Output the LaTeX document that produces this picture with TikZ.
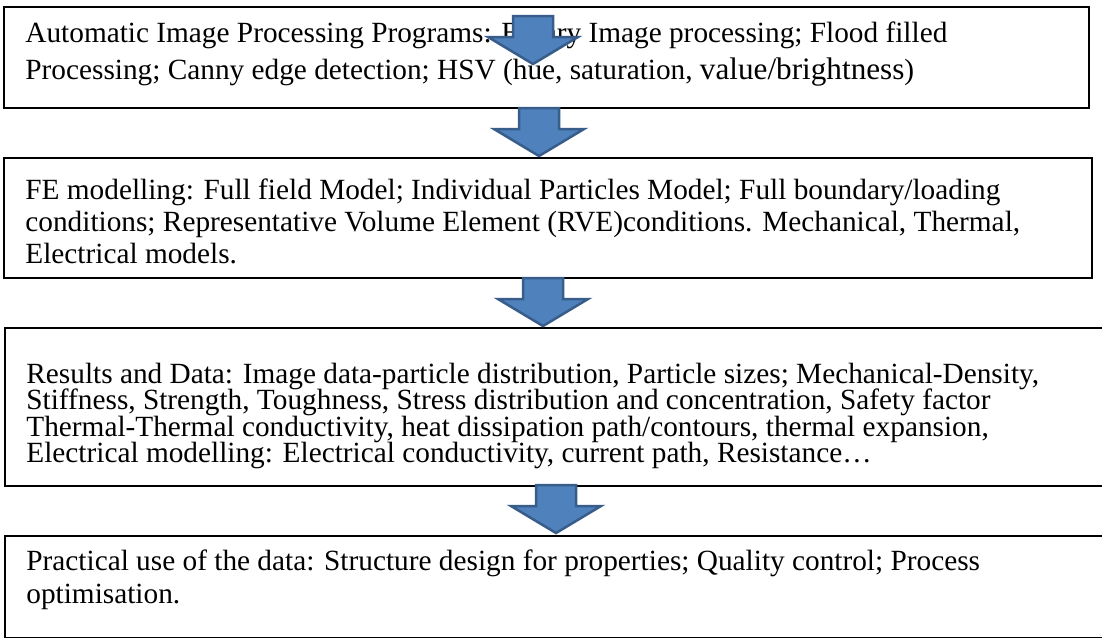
\documentclass[tikz,border=0pt]{standalone}
\usepackage{fontspec}
\setmainfont{Liberation Serif}
\definecolor{arrfill}{HTML}{4F81BD}
\definecolor{arrline}{HTML}{385D8A}
\newcommand{\downblock}[3]{%
  \draw[barrow] ({#2-20},{#3+1}) -- ({#2+20},{#3+1}) -- ({#2+20},{#3+22}) -- ({#2+45},{#3+22}) -- (#2,{#3+49}) -- ({#2-45},{#3+22}) -- ({#2-20},{#3+22}) -- cycle;
  \coordinate (#1) at (#2,{#3+49});}
\begin{document}
\begin{tikzpicture}[x=0.5pt,y=-0.5pt,
  box/.style={draw=black,line width=1pt,inner sep=0pt,anchor=north west},
  txt/.style={anchor=base west,inner sep=0pt,font=\fontsize{14.65}{17}\selectfont},
  tight/.style={txt,text height=9.8pt,text depth=3pt},
  barrow/.style={fill=arrfill,draw=arrline,line width=1.25pt,line join=miter}]
\useasboundingbox (0,0) rectangle (1102,637);
\clip (0,0) rectangle (1102,637);
\fill[white] (0,0) rectangle (1102,637);
% boxes
\node[box,minimum width=542.5pt,minimum height=50.5pt] (b1) at (3,6) {};
\node[box,minimum width=544pt,minimum height=60pt] (b2) at (3,157) {};
\node[box,minimum width=553pt,minimum height=79pt] (b3) at (4,327) {};
\node[box,minimum width=553pt,minimum height=51pt] (b4) at (4,535) {};
% texts
\node[txt] (t11) at (25,42) {Automatic Image Processing Programs: Binary Image processing; Flood filled};
\node[txt] (t12) at (25,79) {Processing; Canny edge detection; HSV (hue, saturation, {\fontsize{15.6}{17}\selectfont value/brightness})};
\node[txt] (t21) at (25,199) {FE modelling: Full field Model; Individual Particles Model; Full boundary/loading};
\node[txt] (t22) at (25,231) {conditions; Representative Volume Element (RVE)conditions. Mechanical, Thermal,};
\node[txt] (t23) at (25,263) {Electrical models.};
\node[tight] (t31) at (26,383) {Results and Data: Image data-particle distribution, Particle sizes; Mechanical-Density,};
\node[tight] (t32) at (26,409.5) {Stiffness, Strength, Toughness, Stress distribution and concentration, Safety factor};
\node[tight] (t33) at (26,436) {Thermal-Thermal conductivity, heat dissipation path/contours, thermal expansion,};
\node[tight] (t34) at (26,462.5) {Electrical modelling: Electrical conductivity, current path, Resistance…};
\node[txt] (t41) at (26,570) {Practical use of the data: Structure design for properties; Quality control; Process};
\node[txt] (t42) at (26,603) {optimisation.};
% block arrows
\downblock{a1}{533}{15}
\downblock{a2}{539}{107}
\downblock{a3}{543}{277}
\downblock{a4}{556}{484}
\end{tikzpicture}
\end{document}
